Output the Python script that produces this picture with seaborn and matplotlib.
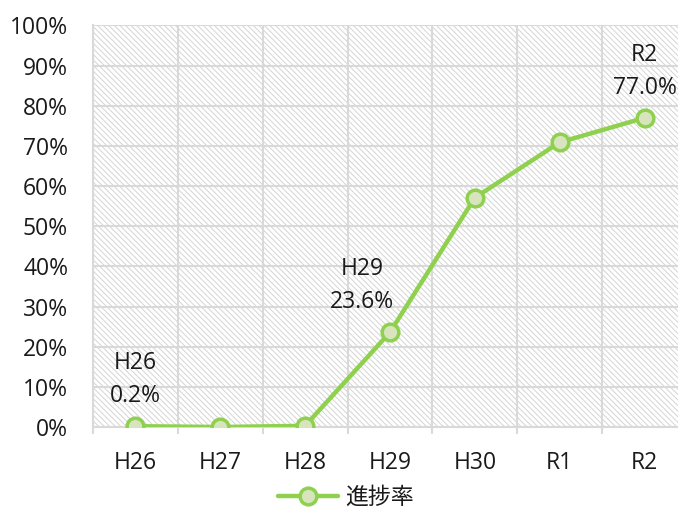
import matplotlib
matplotlib.use("Agg")
import matplotlib.pyplot as plt
import seaborn as sns
import pandas as pd
from matplotlib.patches import Rectangle
from matplotlib.ticker import FixedLocator, PercentFormatter

categories = ["H26", "H27", "H28", "H29", "H30", "R1", "R2"]
progress = [0.2, 0.0, 0.3, 23.6, 57.1, 70.9, 77.0]
series_name = "進捗率"
labeled = {"H26": "H26\n0.2%", "H29": "H29\n23.6%", "R2": "R2\n77.0%"}
y_ticks = [0, 10, 20, 30, 40, 50, 60, 70, 80, 90, 100]

sns.set_theme(style="white")
plt.rcParams["font.family"] = ["Open Sans", "Noto Sans CJK JP", "DejaVu Sans"]
plt.rcParams["text.color"] = "#1a1a1a"
plt.rcParams["hatch.color"] = "#d4d4d4"
plt.rcParams["hatch.linewidth"] = 0.7

df = pd.DataFrame({"cat": categories, "val": progress, "series": series_name})

fs = 16.5
fig = plt.figure(figsize=(6.78, 5.09), dpi=100)
ax = fig.add_axes([93/678, 1-427/509, 594/678, (427-25.5)/509])
ax.set_facecolor("white")

bg = Rectangle((0, 0), 1, 1, transform=ax.transAxes, facecolor="white",
               edgecolor="#d4d4d4", linewidth=0, hatch="\\\\\\\\\\\\", zorder=0.1)
ax.add_patch(bg)

green = "#8fd14f"
sns.lineplot(data=df, x="cat", y="val", hue="series", palette=[green], sort=False,
             marker="o", markersize=12, markerfacecolor="#d7e4bd",
             markeredgecolor=green, markeredgewidth=2.5, linewidth=3.2, ax=ax, zorder=3)

ax.set_xlim(-0.5, 6.5)
ax.set_ylim(0, 100)
ax.yaxis.set_major_locator(FixedLocator(y_ticks))
ax.yaxis.set_major_formatter(PercentFormatter(decimals=0))
ax.xaxis.set_minor_locator(FixedLocator([i - 0.5 for i in range(len(categories) + 1)]))
ax.set_axisbelow(True)
ax.grid(True, axis="y", color="#d9d9d9", linewidth=1.5)
ax.grid(True, axis="x", which="minor", color="#d9d9d9", linewidth=1.5)
ax.grid(False, axis="x", which="major")
ax.tick_params(axis="x", which="major", length=0, pad=17, labelsize=fs, colors="#1a1a1a")
ax.tick_params(axis="x", which="minor", length=5, width=1.5, color="#d9d9d9", bottom=True)
ax.tick_params(axis="y", length=0, pad=18, labelsize=fs, colors="#1a1a1a")
for s in ["top", "right"]:
    ax.spines[s].set_visible(False)
for s in ["left", "bottom"]:
    ax.spines[s].set_color("#d9d9d9")
    ax.spines[s].set_linewidth(1.5)
ax.set_xlabel("")
ax.set_ylabel("")

for i, c in enumerate(categories):
    if c in labeled:
        dx = -28 if c == "H29" else 0
        ax.annotate(labeled[c], xy=(i, progress[i]), xytext=(dx * 0.72, 13),
                    textcoords="offset points", ha="center", va="bottom",
                    fontsize=fs, linespacing=1.5, multialignment="center",
                    color="#1a1a1a", zorder=4)

ax.get_legend().remove()
h, l = ax.get_legend_handles_labels()
fig.legend(h, l, loc="center", bbox_to_anchor=(346/678, 1-498/509), frameon=False,
           fontsize=16.5, handlelength=2.6, handletextpad=0.3, borderpad=0.1,
           labelcolor="#1a1a1a")

fig.savefig("out.png", dpi=100)
